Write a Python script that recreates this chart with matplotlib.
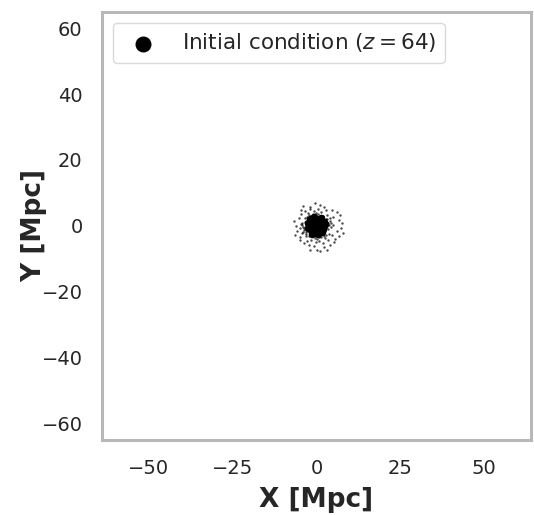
import matplotlib
matplotlib.use("Agg")
import matplotlib.pyplot as plt

# Dense core particles (Mpc)
core_x = [0.0, 1.2, 0.85, 0.0, -0.85, -1.2, -0.85, 0.0, 0.85,
          2.2, 1.9, 1.1, 0.0, -1.1, -1.9, -2.2, -1.9, -1.1, 0.0, 1.1, 1.9,
          2.6, -2.5, 0.5, -0.6, 1.8, -1.9, 2.4, -2.4, 1.4, -1.3]
core_y = [0.0, 0.0, 0.85, 1.2, 0.85, 0.0, -0.85, -1.2, -0.85,
          0.0, 1.1, 1.9, 2.2, 1.9, 1.1, 0.0, -1.1, -1.9, -2.2, -1.9, -1.1,
          0.6, -0.8, -2.6, 2.6, -2.0, 2.0, 1.3, 1.0, 2.4, -2.4]

# Sparse halo particles (Mpc)
halo_x = [-4.0, -1.8, -0.5, 1.2, 2.2, 4.7, 6.2, 7.0, -4.6, -5.3, -6.8, 6.7, 7.7, 7.2,
          8.0, 6.7, -5.8, -6.3, -4.8, -3.8, -2.3, -0.8, 0.2, 2.2, 4.2, 5.2, 3.2, -1.8,
          -4.3, -5.0, 6.2, 1.2,
          -3.5, -3.8, -3.2, -1.5, 0.8, 2.6, 3.8, 4.3, 4.1, 3.2, 1.5, -0.6, -2.4, -4.2,
          -4.4, -2.7, 0.0, 1.9, 3.5, 4.8, 5.1, 4.9, 2.8, 0.4, -1.9, -3.3, -5.0, -4.7,
          5.6, -6.0, 3.0, -3.0, 2.4, -2.2, 3.6, -3.6, 0.9, -1.1,
          3.4, -3.4, 3.9, -3.9, 2.0, -2.1, 0.6, -0.4, 3.3, -3.1, 4.5, -4.6, 1.3, -1.4,
          2.9, -2.8, 4.0, -4.1, -0.2, 0.1]
halo_y = [6.1, 5.8, 7.0, 6.3, 5.6, 4.8, 4.3, 3.3, 3.6, 2.3, 1.6, 1.8, 0.8, -0.7,
          -2.2, -3.2, -1.7, -2.7, -4.2, -5.2, -5.7, -6.2, -7.2, -6.4, -5.7, -5.0, -7.2, -7.4,
          0.3, -0.7, -1.7, -7.7,
          2.5, -1.2, -3.0, -4.2, -4.5, -3.8, -2.4, -0.5, 1.5, 3.3, 4.3, 4.4, 3.8, 1.0,
          -2.2, -4.6, -5.0, -5.1, -4.3, -2.8, 0.3, 2.6, 4.7, 5.2, 5.0, 4.4, -3.3, 4.8,
          -4.0, -0.2, 2.0, -2.0, -3.1, 3.2, 0.9, -0.8, -3.4, 3.5,
          -1.0, 1.3, 0.2, -0.4, 3.0, -3.0, 3.5, -3.6, 2.2, -2.4, 1.0, 0.6, -3.4, 3.3,
          -2.9, 2.6, 2.5, -2.0, 4.0, -4.1]

fig = plt.figure(figsize=(5.34, 5.15), dpi=100)
ax = fig.add_axes([0.191, 0.146, 0.803, 0.831])

ax.scatter(halo_x, halo_y, s=3, color="black", alpha=0.7, linewidths=0)
ax.scatter(core_x, core_y, s=30, color="black", linewidths=0,
           label=r"Initial condition ($z=64$)")

ax.set_xlim(-64, 64)
ax.set_ylim(-65, 65)
ax.set_xticks([-50, -25, 0, 25, 50])
ax.set_yticks([-60, -40, -20, 0, 20, 40, 60])
ax.tick_params(length=0, labelsize=14, colors="#262626", pad=14)
for s in ax.spines.values():
    s.set_color("#b8b8b8")
    s.set_linewidth(2.2)

ax.set_xlabel("X [Mpc]", fontsize=19, fontweight="bold", color="#262626", labelpad=6)
ax.set_ylabel("Y [Mpc]", fontsize=19, fontweight="bold", color="#262626", labelpad=-4)

leg = ax.legend(loc="upper left", fontsize=15.5, markerscale=2.1, frameon=True)
leg.get_frame().set_edgecolor("#d0d0d0")
leg.get_frame().set_linewidth(1.0)
for t in leg.get_texts():
    t.set_color("#262626")

fig.savefig("out.png", dpi=100)
